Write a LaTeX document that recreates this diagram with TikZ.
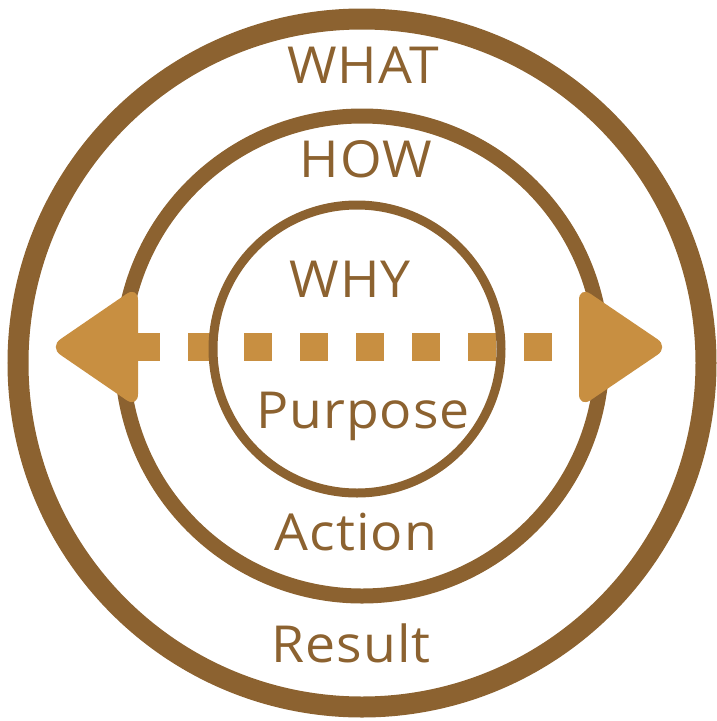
\documentclass[tikz,border=0pt]{standalone}
\usepackage{fontspec}
\setmainfont[FakeStretch=1.05, LetterSpace=2]{Open Sans}
\definecolor{ringbrown}{RGB}{140,98,48}
\definecolor{arrowgold}{RGB}{200,143,65}

\begin{document}
\begin{tikzpicture}[
    x=1pt, y=-1pt,
    ring/.style={draw=ringbrown},
    word/.style={text=ringbrown, anchor=base, inner sep=0pt, font=\fontsize{51}{60}\selectfont},
    head/.style={fill=arrowgold, rounded corners=14pt},
    track/.style={draw=arrowgold, line width=28pt, dash pattern=on 28pt off 28pt}
]
\useasboundingbox (0,0) rectangle (717,721);

% rings
\draw[ring, line width=21pt] (362,363) circle (344);
\draw[ring, line width=15pt] (362,356) circle (240);

% dotted axis with its two heads
\coordinate (west) at (132,347);
\coordinate (east) at (552,347);
\draw[track] (west) -- (east);
\draw[ring, line width=9pt] (357,349) circle (144);
\fill[head] (49,347) -- (138,286) -- (138,408) -- cycle;
\fill[head] (669,347) -- (579,286) -- (579,408) -- cycle;

% words
\node[word] (what) at (363,83) {WHAT};
\node[word] (how) at (366,177) {HOW};
\node[word] (why) at (350,297) {WHY};
\node[word] (purpose) at (363,428) {Purpose};
\node[word] (action) at (356,550) {Action};
\node[word] (result) at (351,662) {Result};

\end{tikzpicture}
\end{document}
